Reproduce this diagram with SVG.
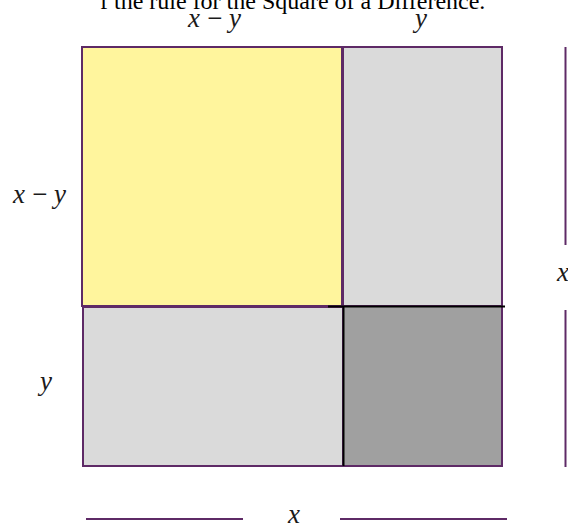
<svg xmlns="http://www.w3.org/2000/svg" width="568" height="527" viewBox="0 0 568 527">
<style>
.title{font-family:"Liberation Serif","Times New Roman",serif;font-size:24px;fill:#000}
.lbl{font-family:"Liberation Serif","Times New Roman",serif;font-style:italic;font-size:27px;fill:#1a1a1a}
.pu{stroke:#5e2a66;stroke-width:2}
.ln{stroke:#5e2a66;stroke-width:2;fill:none}
.bk{stroke:#000;stroke-width:2;fill:none}
.yel{fill:#fff59d}
.lg{fill:#dadada}
.dg{fill:#a0a0a0}
</style>
<rect width="568" height="527" fill="#fff"/>
<text class="title" x="100" y="9">f the rule for the Square of a Difference.</text>
<g id="sq-yellow">
<rect x="82" y="47" width="260" height="259" class="yel pu"/>
</g>
<g id="rect-top-right">
<rect x="343" y="47" width="159" height="259" class="lg pu"/>
</g>
<g id="rect-bottom-left">
<rect x="83" y="307" width="260" height="159" class="lg pu"/>
</g>
<g id="sq-dark">
<rect x="343" y="306" width="159" height="160" class="dg pu"/>
<line x1="328" y1="306.5" x2="505" y2="306.5" class="bk"/>
<line x1="343.5" y1="306" x2="343.5" y2="466" class="bk"/>
</g>
<g id="labels">
<text class="lbl" x="188" y="27" textLength="53" lengthAdjust="spacing">x−y</text>
<text class="lbl" x="415" y="27">y</text>
<text class="lbl" x="13" y="203" textLength="53" lengthAdjust="spacing">x−y</text>
<text class="lbl" x="40" y="390">y</text>
<text class="lbl" x="557" y="281">x</text>
<text class="lbl" x="288" y="523">x</text>
</g>
<g id="connectors">
<line x1="565.5" y1="47" x2="565.5" y2="245" class="ln"/>
<line x1="565.5" y1="310" x2="565.5" y2="467" class="ln"/>
<line x1="86" y1="519" x2="243" y2="519" class="ln"/>
<line x1="340" y1="519" x2="507" y2="519" class="ln"/>
</g>
</svg>
